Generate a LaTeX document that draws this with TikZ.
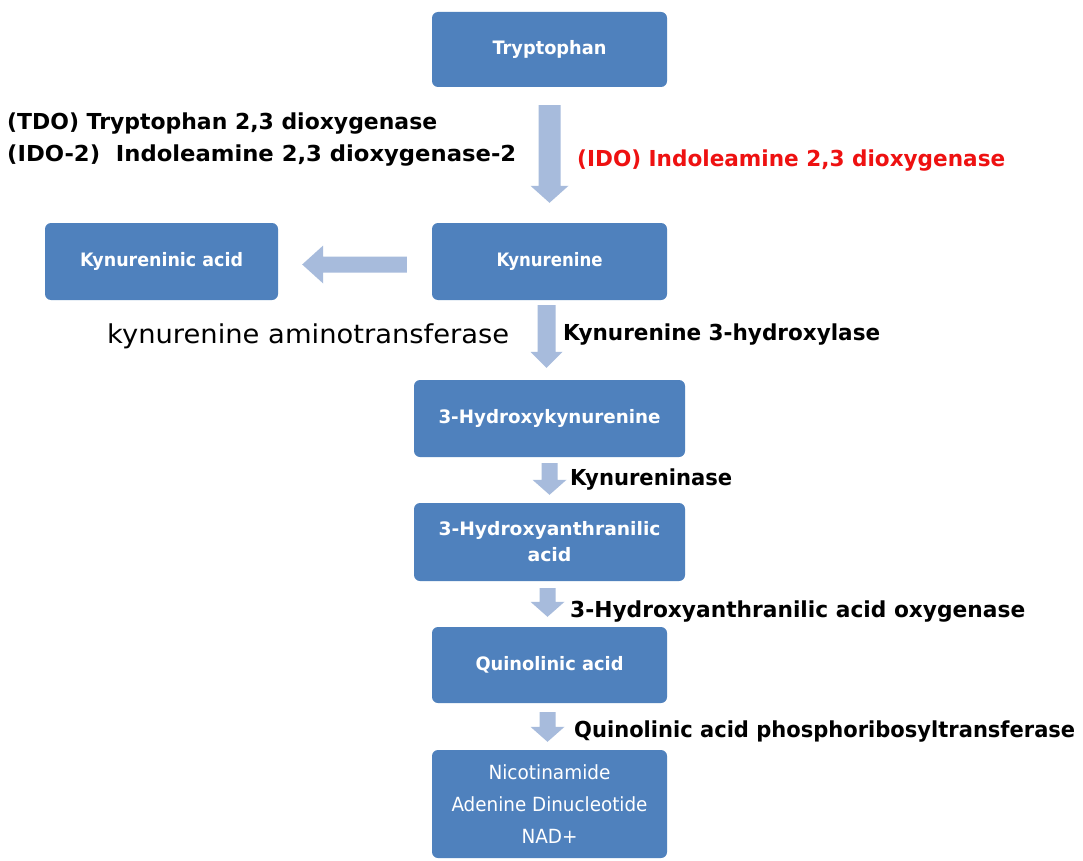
\documentclass[tikz,border=0pt]{standalone}
\usepackage{fontspec}
\usepackage{graphicx}
\setmainfont{DejaVu Sans}
\usetikzlibrary{calc}
\definecolor{boxblue}{HTML}{4F81BD}
\definecolor{arrowblue}{HTML}{A7BBDC}
\definecolor{idored}{HTML}{EE1111}
\newlength\fitlen
\newcommand\fitto[2]{\settowidth{\fitlen}{#2}\pgfmathsetmacro\fitfac{#1/\fitlen}\scalebox{\fitfac}[1]{#2}}
% vertical block arrow: start, end, shaft half width, head half width, head length
\newcommand\vblock[5]{\fill[arrowblue] let \p1=(#1), \p2=(#2) in
  (\x1-#3,\y1) -- (\x1-#3,\y2+#5) -- (\x1-#4,\y2+#5) -- (\x1,\y2) --
  (\x1+#4,\y2+#5) -- (\x1+#3,\y2+#5) -- (\x1+#3,\y1) -- cycle;}
\begin{document}
\begin{tikzpicture}[x=1pt,y=-1pt,
  box/.style={fill=boxblue, rounded corners=6pt, text=white, inner sep=0pt,
    align=center, font=\bfseries\fontsize{18.5}{26}\selectfont},
  enz/.style={anchor=base west, inner sep=0pt, text=black,
    font=\bfseries\fontsize{22}{26}\selectfont}]
\useasboundingbox[fill=white] (0,0) rectangle (1083,861);

% boxes
\node[box, minimum width=235pt, minimum height=75pt] (trp) at (549.5,49.5) {\fitto{114pt}{Tryptophan}};
\node[box, minimum width=235pt, minimum height=77pt] (kyn) at (549.5,261.5) {\fitto{106pt}{Kynurenine}};
\node[box, minimum width=233pt, minimum height=77pt] (kyna) at (161.5,261.5) {\fitto{163pt}{Kynureninic acid}};
\node[box, minimum width=271pt, minimum height=77pt] (hk) at (549.5,418.5) {\fitto{222pt}{3-Hydroxykynurenine}};
\node[box, minimum width=271pt, minimum height=78pt] (haa) at (549.5,542) {\fitto{222pt}{3-Hydroxyanthranilic}\\\fitto{44pt}{acid}};
\node[box, minimum width=235pt, minimum height=76pt] (quin) at (549.5,665) {\fitto{148pt}{Quinolinic acid}};
\node[box, minimum width=235pt, minimum height=108pt, font=\fontsize{19.5}{32}\selectfont] (nad) at (549.5,804)
  {\fitto{122pt}{Nicotinamide}\\\fitto{196pt}{Adenine Dinucleotide}\\\fitto{56pt}{NAD+}};

% arrow end points
\coordinate (a1s) at ([yshift=-18pt]trp.south);
\coordinate (a1e) at ([yshift=20pt]kyn.north);
\coordinate (a2s) at ([shift={(-3pt,-5pt)}]kyn.south);
\coordinate (a2e) at ([shift={(-3pt,12pt)}]hk.north);
\coordinate (a3s) at ([yshift=-6pt]hk.south);
\coordinate (a3e) at ([yshift=8pt]haa.north);
\coordinate (a4s) at ([shift={(-2pt,-7pt)}]haa.south);
\coordinate (a4e) at ([shift={(-2pt,10pt)}]quin.north);
\coordinate (a5s) at ([shift={(-2pt,-9pt)}]quin.south);
\coordinate (a5e) at ([shift={(-2pt,8pt)}]nad.north);
\coordinate (ls) at ([shift={(-25pt,-3pt)}]kyn.west);
\coordinate (le) at ([shift={(24pt,-3pt)}]kyna.east);

% arrows
\vblock{a1s}{a1e}{11pt}{19pt}{17pt}
\vblock{a2s}{a2e}{9pt}{16pt}{16pt}
\vblock{a3s}{a3e}{8pt}{17pt}{15pt}
\vblock{a4s}{a4e}{8pt}{17pt}{15pt}
\vblock{a5s}{a5e}{8pt}{17pt}{15pt}
\fill[arrowblue] let \p1=(ls), \p2=(le) in
  (\x1,\y1+8pt) -- (\x2+21pt,\y1+8pt) -- (\x2+21pt,\y1+19pt) -- (\x2,\y1) --
  (\x2+21pt,\y1-19pt) -- (\x2+21pt,\y1-8pt) -- (\x1,\y1-8pt) -- cycle;

% enzyme labels
\node[enz] (tdo) at (7,130) {\fitto{430pt}{(TDO) Tryptophan 2,3 dioxygenase}};
\node[enz] (ido2) at (7,162) {\fitto{509pt}{(IDO-2)\ \ Indoleamine 2,3 dioxygenase-2}};
\node[enz, text=idored] (ido) at (577,167) {\fitto{428pt}{(IDO) Indoleamine 2,3 dioxygenase}};
\node[enz, font=\fontsize{26}{30}\selectfont] (kat) at (107,343) {\fitto{402pt}{kynurenine aminotransferase}};
\node[enz] (k3h) at (563,340) {\fitto{317pt}{Kynurenine 3-hydroxylase}};
\node[enz] (kyase) at (570,485) {\fitto{162pt}{Kynureninase}};
\node[enz] (haao) at (570,617) {\fitto{455pt}{3-Hydroxyanthranilic acid oxygenase}};
\node[enz] (qprt) at (574,737) {\fitto{501pt}{Quinolinic acid phosphoribosyltransferase}};
\end{tikzpicture}
\end{document}
